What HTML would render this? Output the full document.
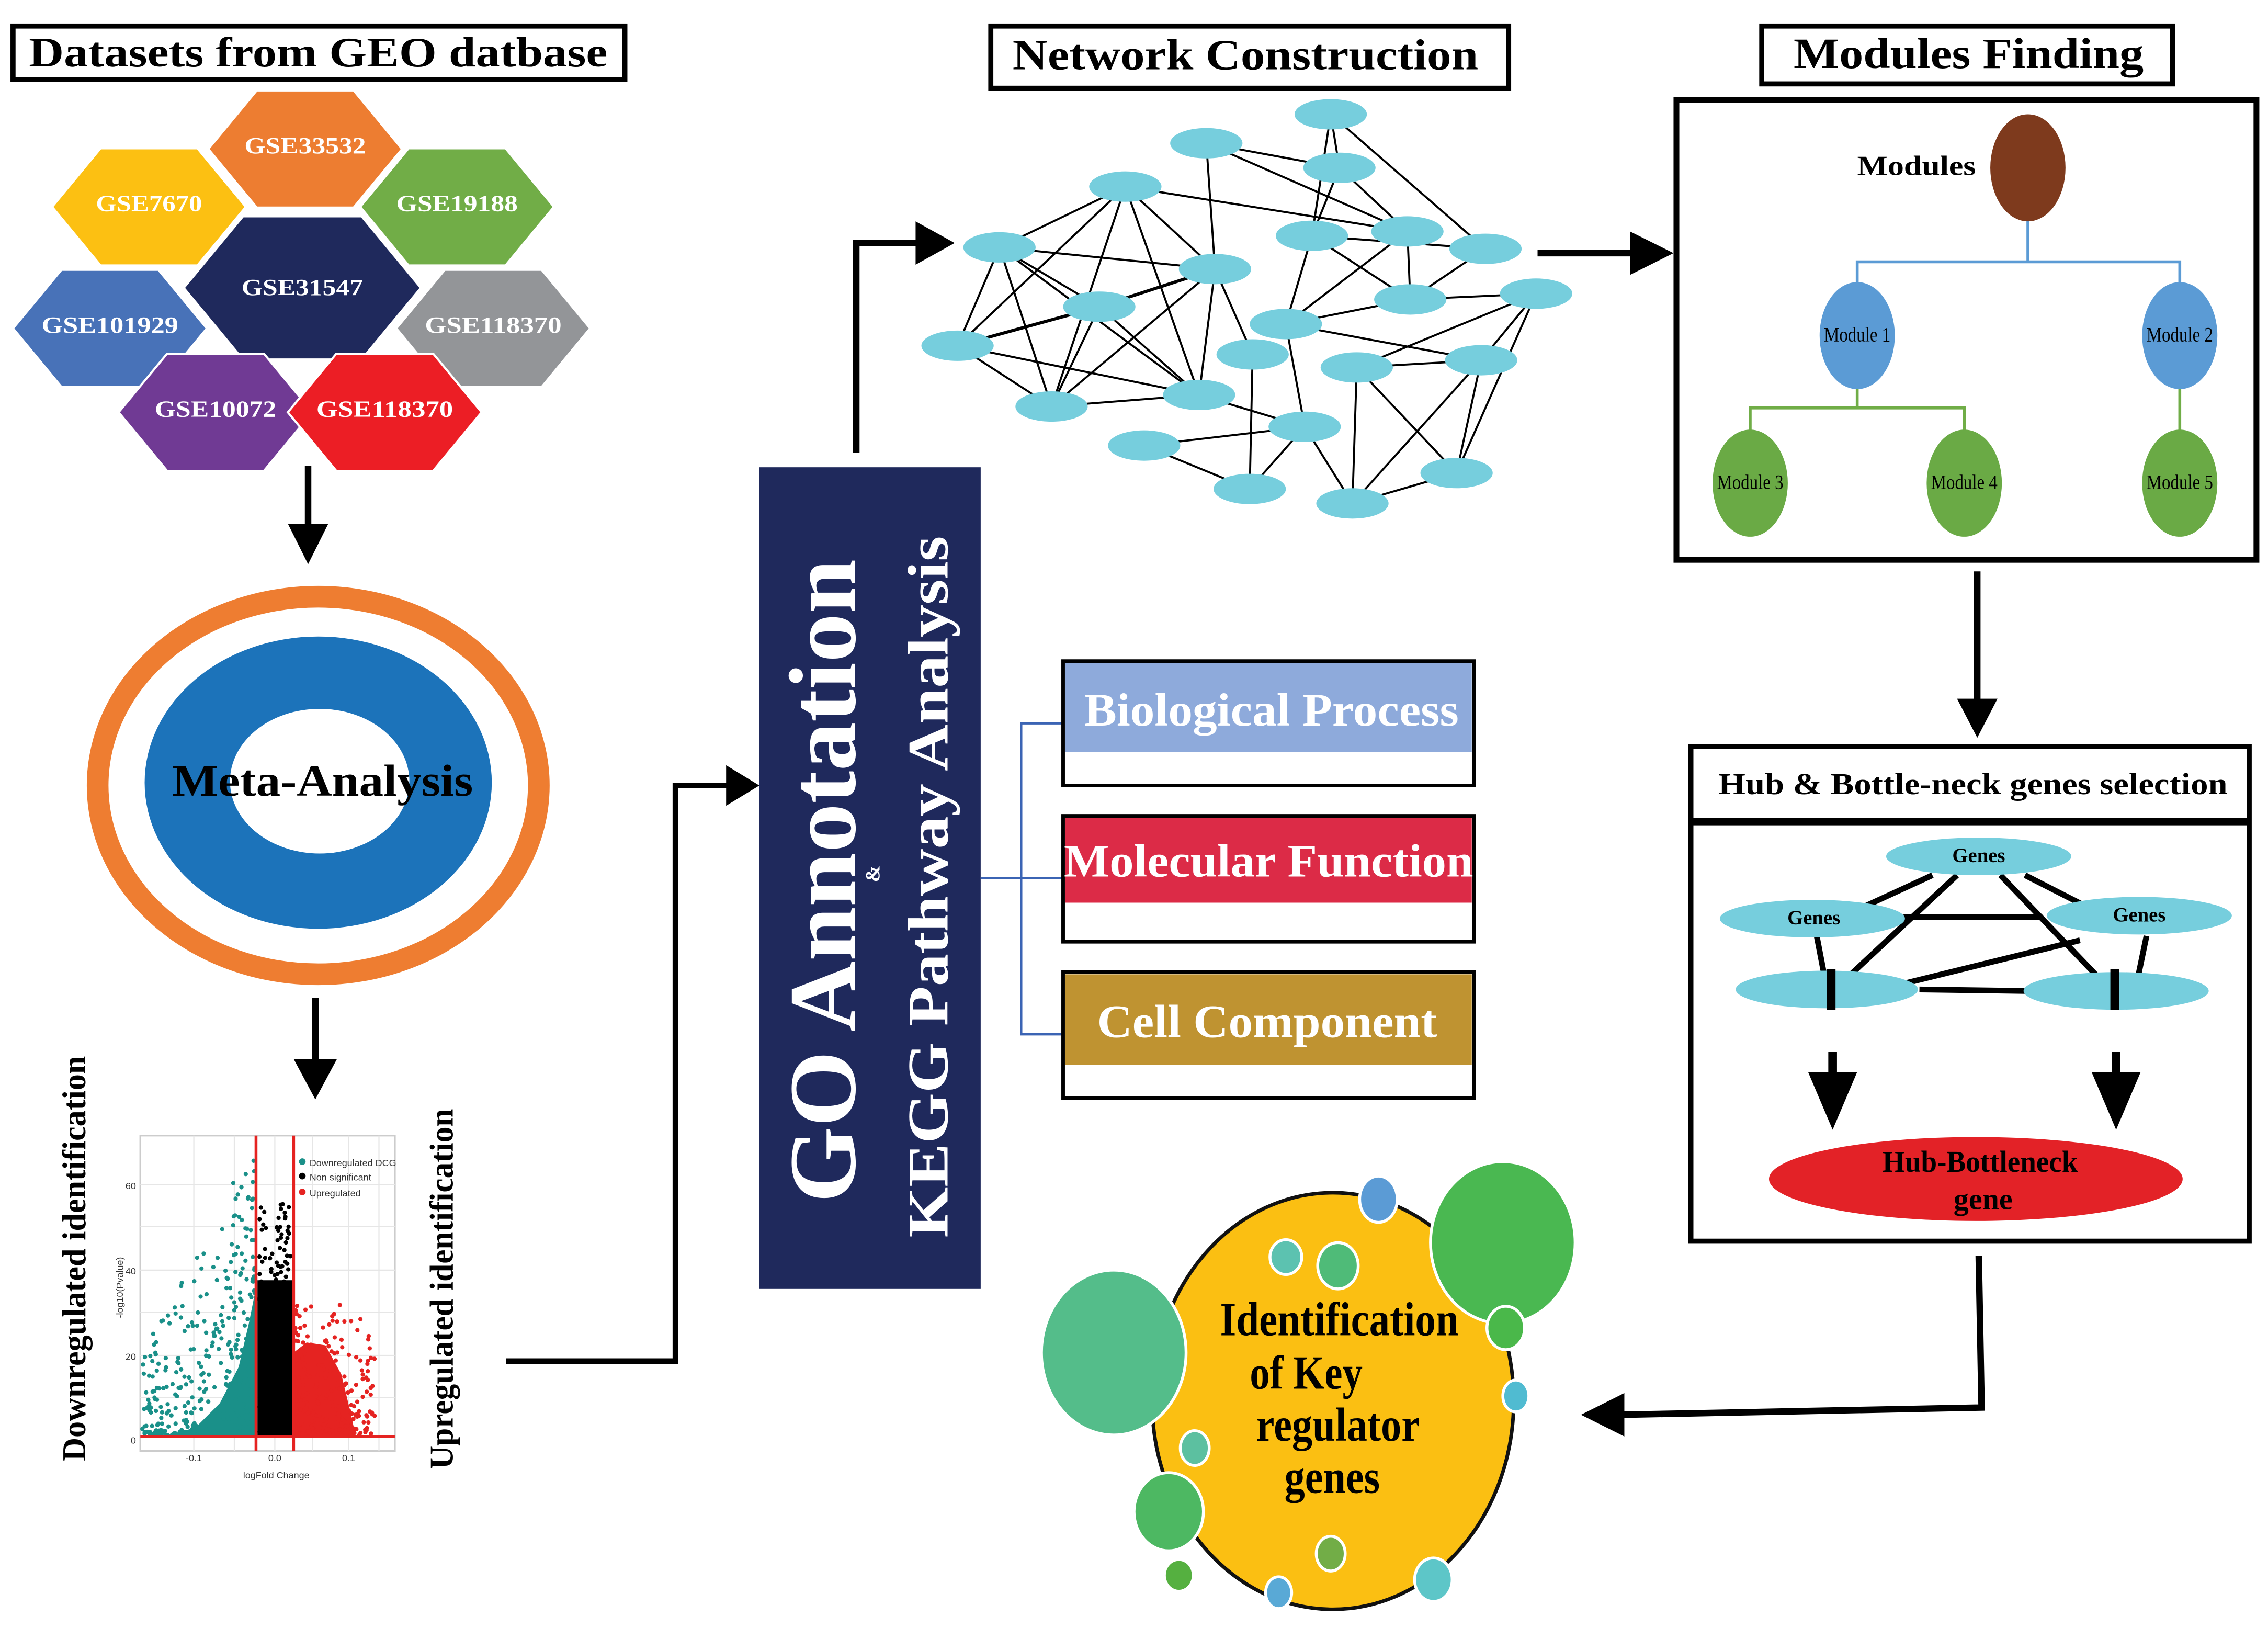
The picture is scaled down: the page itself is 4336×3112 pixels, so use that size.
<!DOCTYPE html>
<html><head><meta charset="utf-8"><style>
html,body{margin:0;padding:0;background:#fff;}
svg{display:block;}
text{font-family:"Liberation Serif","Times New Roman",serif;font-weight:bold;}
</style></head><body>
<svg id="s" width="4336" height="3112" viewBox="0 0 1568 1125.4" preserveAspectRatio="none" xmlns="http://www.w3.org/2000/svg" font-family="Liberation Serif, serif">
<rect width="1568" height="1126" fill="#fff"/>
<rect x="9" y="18" width="423" height="37" fill="#fff" stroke="#000" stroke-width="3.5"/>
<text x="220" y="46" font-size="29" text-anchor="middle" textLength="400" lengthAdjust="spacingAndGlyphs">Datasets from GEO datbase</text>
<rect x="685" y="18" width="358" height="43" fill="#fff" stroke="#000" stroke-width="3.5"/>
<text x="861" y="48" font-size="30" text-anchor="middle" textLength="322" lengthAdjust="spacingAndGlyphs">Network Construction</text>
<rect x="1218" y="18" width="284" height="40" fill="#fff" stroke="#000" stroke-width="3.5"/>
<text x="1361" y="47" font-size="30" text-anchor="middle" textLength="242" lengthAdjust="spacingAndGlyphs">Modules Finding</text>

<g id="hex"></g>

<g fill="#000" stroke="#000">
<line x1="213" y1="322" x2="213" y2="365" stroke-width="4.5"/>
<polygon points="199,362 227,362 213,390" stroke="none"/>
<line x1="218" y1="690" x2="218" y2="735" stroke-width="4.5"/>
<polygon points="203,732 233,732 218,760" stroke="none"/>
<polyline points="350,941 467,941 467,543 505,543" fill="none" stroke-width="4"/>
<polygon points="502,529 502,557 525,543" stroke="none"/>
<polyline points="592,313 592,168 636,168" fill="none" stroke-width="4.5"/>
<polygon points="633,153 633,183 660,168" stroke="none"/>
<line x1="1063" y1="175" x2="1130" y2="175" stroke-width="4.5"/>
<polygon points="1127,160 1127,190 1157,175" stroke="none"/>
<line x1="1367" y1="395" x2="1367" y2="486" stroke-width="4.5"/>
<polygon points="1353,483 1381,483 1367,510" stroke="none"/>
<polyline points="1368,868 1370,973 1120,978" fill="none" stroke-width="4.5"/>
<polygon points="1123,963 1123,993 1093,978" stroke="none"/>
</g>

<ellipse cx="220" cy="543" rx="160" ry="138" fill="#ee7d31"/>
<ellipse cx="220" cy="543" rx="145" ry="123" fill="#fff"/>
<ellipse cx="220" cy="541" rx="120" ry="101" fill="#1c73ba"/>
<ellipse cx="221" cy="540" rx="62" ry="50" fill="#fff"/>
<text x="223" y="550" font-size="31" text-anchor="middle" textLength="208" lengthAdjust="spacingAndGlyphs">Meta-Analysis</text>

<g id="volc">
<rect x="97" y="785" width="176" height="218" fill="#fff" stroke="#ccc" stroke-width="1.2"/>
<g stroke="#e6e6e6" stroke-width="0.8">
<line x1="97" y1="819" x2="273" y2="819"/><line x1="97" y1="848" x2="273" y2="848"/><line x1="97" y1="878" x2="273" y2="878"/><line x1="97" y1="907" x2="273" y2="907"/><line x1="97" y1="937" x2="273" y2="937"/><line x1="97" y1="966" x2="273" y2="966"/>
<line x1="134" y1="785" x2="134" y2="1003"/><line x1="162" y1="785" x2="162" y2="1003"/><line x1="190" y1="785" x2="190" y2="1003"/><line x1="216" y1="785" x2="216" y2="1003"/><line x1="241" y1="785" x2="241" y2="1003"/><line x1="262" y1="785" x2="262" y2="1003"/>
</g>
<polygon points="112,993 135,987 152,970 165,945 172,915 177,890 177,993" fill="#1a9089"/>
<rect x="178" y="885" width="24" height="108" fill="#000"/>
<polygon points="203,993 203,935 212,928 225,930 236,950 242,975 246,993" fill="#e52321"/>
<g id="pts"></g>
<line x1="177" y1="785" x2="177" y2="1003" stroke="#e52321" stroke-width="2"/>
<line x1="203" y1="785" x2="203" y2="1003" stroke="#e52321" stroke-width="2"/>
<line x1="97" y1="993" x2="273" y2="993" stroke="#e52321" stroke-width="2"/>
<circle cx="209" cy="803" r="2.3" fill="#1a9089"/><circle cx="209" cy="813" r="2.3" fill="#000"/><circle cx="209" cy="824" r="2.3" fill="#e52321"/>
<g font-size="6.5" fill="#333">
<text x="214" y="806" style="font-weight:normal;font-family:'Liberation Sans',sans-serif">Downregulated DCG</text>
<text x="214" y="816" style="font-weight:normal;font-family:'Liberation Sans',sans-serif">Non significant</text>
<text x="214" y="827" style="font-weight:normal;font-family:'Liberation Sans',sans-serif">Upregulated</text>
<text x="94" y="822" text-anchor="end" style="font-weight:normal;font-family:'Liberation Sans',sans-serif">60</text>
<text x="94" y="881" text-anchor="end" style="font-weight:normal;font-family:'Liberation Sans',sans-serif">40</text>
<text x="94" y="940" text-anchor="end" style="font-weight:normal;font-family:'Liberation Sans',sans-serif">20</text>
<text x="94" y="998" text-anchor="end" style="font-weight:normal;font-family:'Liberation Sans',sans-serif">0</text>
<text x="134" y="1010" text-anchor="middle" style="font-weight:normal;font-family:'Liberation Sans',sans-serif">-0.1</text>
<text x="190" y="1010" text-anchor="middle" style="font-weight:normal;font-family:'Liberation Sans',sans-serif">0.0</text>
<text x="241" y="1010" text-anchor="middle" style="font-weight:normal;font-family:'Liberation Sans',sans-serif">0.1</text>
<text x="191" y="1022" text-anchor="middle" style="font-weight:normal;font-family:'Liberation Sans',sans-serif">logFold Change</text>
<text transform="translate(85,890) rotate(-90)" text-anchor="middle" style="font-weight:normal;font-family:'Liberation Sans',sans-serif">-log10(Pvalue)</text>
</g>
</g>
<text transform="translate(59,870) rotate(-90)" font-size="23" text-anchor="middle" textLength="280" lengthAdjust="spacingAndGlyphs">Downregulated identification</text>
<text transform="translate(313,891) rotate(-90)" font-size="23" text-anchor="middle" textLength="249" lengthAdjust="spacingAndGlyphs">Upregulated identification</text>

<rect x="525" y="323" width="153" height="568" fill="#1f295c"/>
<text transform="translate(591,609) rotate(-90)" font-size="66" fill="#fff" text-anchor="middle" textLength="445" lengthAdjust="spacingAndGlyphs">GO Annotation</text>
<text transform="translate(655,613) rotate(-90)" font-size="40" fill="#fff" text-anchor="middle" textLength="485" lengthAdjust="spacingAndGlyphs">KEGG Pathway Analysis</text>
<text transform="translate(608,604) rotate(-90)" font-size="14" fill="#fff" text-anchor="middle">&amp;</text>

<g stroke="#3b64b4" stroke-width="1.6" fill="none">
<polyline points="735,500 706,500 706,715 735,715"/>
<line x1="678" y1="607" x2="735" y2="607"/>
</g>
<rect x="735" y="457" width="284" height="86" fill="#fff" stroke="#000" stroke-width="2.5"/>
<rect x="736.5" y="458.5" width="281" height="61.5" fill="#8eaadb"/>
<text x="879" y="501.5" font-size="32" fill="#fff" text-anchor="middle" textLength="259" lengthAdjust="spacingAndGlyphs">Biological Process</text>
<rect x="735" y="564" width="284" height="87" fill="#fff" stroke="#000" stroke-width="2.5"/>
<rect x="736.5" y="565.5" width="281" height="58.5" fill="#dc2b47"/>
<text x="877" y="606" font-size="32" fill="#fff" text-anchor="middle" textLength="283" lengthAdjust="spacingAndGlyphs">Molecular Function</text>
<rect x="735" y="672" width="284" height="87" fill="#fff" stroke="#000" stroke-width="2.5"/>
<rect x="736.5" y="673.5" width="281" height="62.5" fill="#bf9331"/>
<text x="876" y="717" font-size="32" fill="#fff" text-anchor="middle" textLength="235" lengthAdjust="spacingAndGlyphs">Cell Component</text>

<g id="net"></g>

<rect x="1159" y="69" width="401" height="318" fill="#fff" stroke="#000" stroke-width="4"/>
<text x="1325" y="121" font-size="19" text-anchor="middle" textLength="82" lengthAdjust="spacingAndGlyphs">Modules</text>
<g stroke-width="2" fill="none">
<polyline points="1402,150 1402,181" stroke="#5b9bd5"/>
<polyline points="1284,200 1284,181 1507,181 1507,200" stroke="#5b9bd5"/>
<polyline points="1284,265 1284,282" stroke="#70ad47"/>
<polyline points="1210,300 1210,282 1358,282 1358,300" stroke="#70ad47"/>
<line x1="1507" y1="265" x2="1507" y2="300" stroke="#70ad47"/>
</g>
<ellipse cx="1402" cy="116" rx="26" ry="37" fill="#7e3a1d"/>
<ellipse cx="1284" cy="232" rx="26" ry="37" fill="#5b9bd5"/>
<ellipse cx="1507" cy="232" rx="26" ry="37" fill="#5b9bd5"/>
<ellipse cx="1210" cy="334" rx="26" ry="37" fill="#6aaa45"/>
<ellipse cx="1358" cy="334" rx="26" ry="37" fill="#6aaa45"/>
<ellipse cx="1507" cy="334" rx="26" ry="37" fill="#6aaa45"/>
<g font-size="14" text-anchor="middle">
<text x="1284" y="236" style="font-weight:normal" textLength="46" lengthAdjust="spacingAndGlyphs">Module 1</text>
<text x="1507" y="236" style="font-weight:normal" textLength="46" lengthAdjust="spacingAndGlyphs">Module 2</text>
<text x="1210" y="338" style="font-weight:normal" textLength="46" lengthAdjust="spacingAndGlyphs">Module 3</text>
<text x="1358" y="338" style="font-weight:normal" textLength="46" lengthAdjust="spacingAndGlyphs">Module 4</text>
<text x="1507" y="338" style="font-weight:normal" textLength="46" lengthAdjust="spacingAndGlyphs">Module 5</text>
</g>

<rect x="1169" y="516" width="386" height="342" fill="#fff" stroke="#000" stroke-width="3.5"/>
<line x1="1169" y1="568" x2="1555" y2="568" stroke="#000" stroke-width="5"/>
<text x="1364" y="549" font-size="21" text-anchor="middle" textLength="352" lengthAdjust="spacingAndGlyphs">Hub &amp; Bottle-neck genes selection</text>
<g stroke="#000" stroke-width="4">
<line x1="1336" y1="605" x2="1286" y2="628"/>
<line x1="1353" y1="605" x2="1277" y2="676"/>
<line x1="1383" y1="605" x2="1453" y2="678"/>
<line x1="1400" y1="605" x2="1447" y2="629"/>
<line x1="1316" y1="634" x2="1412" y2="634"/>
<line x1="1316" y1="680" x2="1438" y2="650"/>
<line x1="1256" y1="647" x2="1261" y2="673"/>
<line x1="1484" y1="647" x2="1478" y2="676"/>
<line x1="1327" y1="684" x2="1400" y2="685"/>
</g>
<ellipse cx="1368" cy="592" rx="64" ry="13" fill="#76cedd"/>
<ellipse cx="1253" cy="635" rx="64" ry="13" fill="#76cedd"/>
<ellipse cx="1479" cy="633" rx="64" ry="13" fill="#76cedd"/>
<ellipse cx="1263" cy="684" rx="63" ry="13" fill="#76cedd"/>
<ellipse cx="1463" cy="685" rx="64" ry="13" fill="#76cedd"/>
<rect x="1263" y="670" width="6" height="28" fill="#000"/>
<rect x="1459" y="670" width="6" height="28" fill="#000"/>
<g font-size="14" text-anchor="middle">
<text x="1368" y="596">Genes</text><text x="1254" y="639">Genes</text><text x="1479" y="637">Genes</text>
</g>
<line x1="1267" y1="727" x2="1267" y2="750" stroke="#000" stroke-width="6"/>
<polygon points="1250,741 1284,741 1267,781" fill="#000"/>
<line x1="1463" y1="727" x2="1463" y2="750" stroke="#000" stroke-width="6"/>
<polygon points="1446,741 1480,741 1463,781" fill="#000"/>
<ellipse cx="1366" cy="815" rx="143" ry="29" fill="#e32227"/>
<text x="1369" y="810" font-size="21" text-anchor="middle" textLength="135" lengthAdjust="spacingAndGlyphs">Hub-Bottleneck</text>
<text x="1371" y="836" font-size="21" text-anchor="middle">gene</text>

<ellipse cx="921.5" cy="968.5" rx="125" ry="144" fill="#fbbf12" stroke="#111" stroke-width="2.5"/>
<g stroke="#fff" stroke-width="2">
<ellipse cx="770" cy="935" rx="50" ry="57" fill="#54bd8a"/>
<ellipse cx="1039" cy="859" rx="50" ry="56" fill="#4ab851"/>
<ellipse cx="953" cy="829" rx="13" ry="16" fill="#5b9bd5"/>
<ellipse cx="889" cy="869" rx="11" ry="12" fill="#5cc2b0"/>
<ellipse cx="925" cy="875" rx="14" ry="16" fill="#4fbb78"/>
<ellipse cx="1041" cy="918" rx="13" ry="15" fill="#4ab84a"/>
<ellipse cx="1048" cy="965" rx="9" ry="11" fill="#50bbd1"/>
<ellipse cx="826" cy="1001" rx="10" ry="12" fill="#5cc0a0"/>
<ellipse cx="808" cy="1045" rx="24" ry="27" fill="#4db862"/>
<ellipse cx="815" cy="1089" rx="9" ry="10" fill="#55b040" stroke="none"/>
<ellipse cx="920" cy="1074" rx="10" ry="12" fill="#72ad47"/>
<ellipse cx="884" cy="1101" rx="9" ry="11" fill="#59a9d6"/>
<ellipse cx="991" cy="1092" rx="13" ry="15" fill="#5dc6c8"/>
</g>
<g font-size="33" text-anchor="middle">
<text x="926" y="923" textLength="165" lengthAdjust="spacingAndGlyphs">Identification</text>
<text x="903" y="960" textLength="78" lengthAdjust="spacingAndGlyphs">of Key</text>
<text x="925" y="996" textLength="113" lengthAdjust="spacingAndGlyphs">regulator</text>
<text x="921" y="1032" textLength="66" lengthAdjust="spacingAndGlyphs">genes</text>
</g>
</svg>
<script>
(function(){
var NS="http://www.w3.org/2000/svg";
function el(p,t,a){var e=document.createElementNS(NS,t);for(var k in a)e.setAttribute(k,a[k]);p.appendChild(e);return e;}
var hx=document.getElementById('hex');
var H=[[211,103,134,81,'#ed7d31','GSE33532'],[103,143,134,81,'#fcc012','GSE7670'],[316,143,134,81,'#71ad47','GSE19188'],
[76,227,134,81,'#4872b8','GSE101929'],[341,227,134,81,'#939598','GSE118370'],[209,199,164,99,'#1f295c','GSE31547'],
[149,285,134,81,'#703a94','GSE10072'],[266,285,134,81,'#ec1e25','GSE118370']];
H.forEach(function(h){var cx=h[0],cy=h[1],w=h[2]/2,t=h[3]/2,i=w*0.5;
el(hx,'polygon',{points:[cx-w,cy,cx-i,cy-t,cx+i,cy-t,cx+w,cy,cx+i,cy+t,cx-i,cy+t].join(' '),fill:h[4],stroke:'#fff','stroke-width':1.5});
var tx=el(hx,'text',{x:cx,y:(h[5]=='GSE31547'?cy+5:cy+3),'font-size':16,fill:'#fff','text-anchor':'middle',textLength:(h[5].length*10.5),lengthAdjust:'spacingAndGlyphs'});tx.textContent=h[5];});
var N={A:[920,79],B:[834,99],C:[926,116],D:[778,129],E:[691,171],F:[907,163],G:[973,160],H:[1027,172],I:[840,186],J:[760,212],K:[975,207],L:[1062,203],M:[889,224],N:[662,239],O:[866,245],P:[938,254],Q:[1024,249],R:[829,273],S:[727,281],T:[902,295],U:[791,308],V:[1007,327],W:[864,338],X:[935,348]};
var E="AC AF AH BC BG BI IO DE DN DS DR DI DG EI EJ ER EN ES FC FH FM FK CG GK GM HK IJ IS IR JN JS JR NS NR MK MQ MT LK LP LQ LV PQ PX PV QX QV RS RT TU TW TX UW OW XV".split(' ');
var g=document.getElementById('net');
E.forEach(function(e){var a=N[e[0]],b=N[e[1]];el(g,'line',{x1:a[0],y1:a[1],x2:b[0],y2:b[1],stroke:'#000','stroke-width':(e=='IJ'||e=='JN'?2.2:1.4)});});
for(var k in N){el(g,'ellipse',{cx:N[k][0],cy:N[k][1],rx:25,ry:10.5,fill:'#76cedd'});}
var s=12345;function r(){s=(s*16807)%2147483647;return s/2147483647;}
var p=document.getElementById('pts');
for(var i=0;i<420;i++){var x=176-78*Math.pow(r(),1.6);var lim=60+(x-100)*1.9;var y=992-lim*Math.pow(r(),2.2);
 if(y<800)y=800+r()*20;el(p,'circle',{cx:x.toFixed(1),cy:y.toFixed(1),r:1.5,fill:'#1a9089'});}
for(var i=0;i<200;i++){var x=179+22*r();var y=992-160*Math.pow(r(),2.2);el(p,'circle',{cx:x.toFixed(1),cy:y.toFixed(1),r:1.5,fill:'#000'});}
for(var i=0;i<260;i++){var x=204+55*Math.pow(r(),1.5);var y=992-90*Math.pow(r(),2.3);el(p,'circle',{cx:x.toFixed(1),cy:y.toFixed(1),r:1.5,fill:'#e52321'});}
})();
</script>
</body></html>
